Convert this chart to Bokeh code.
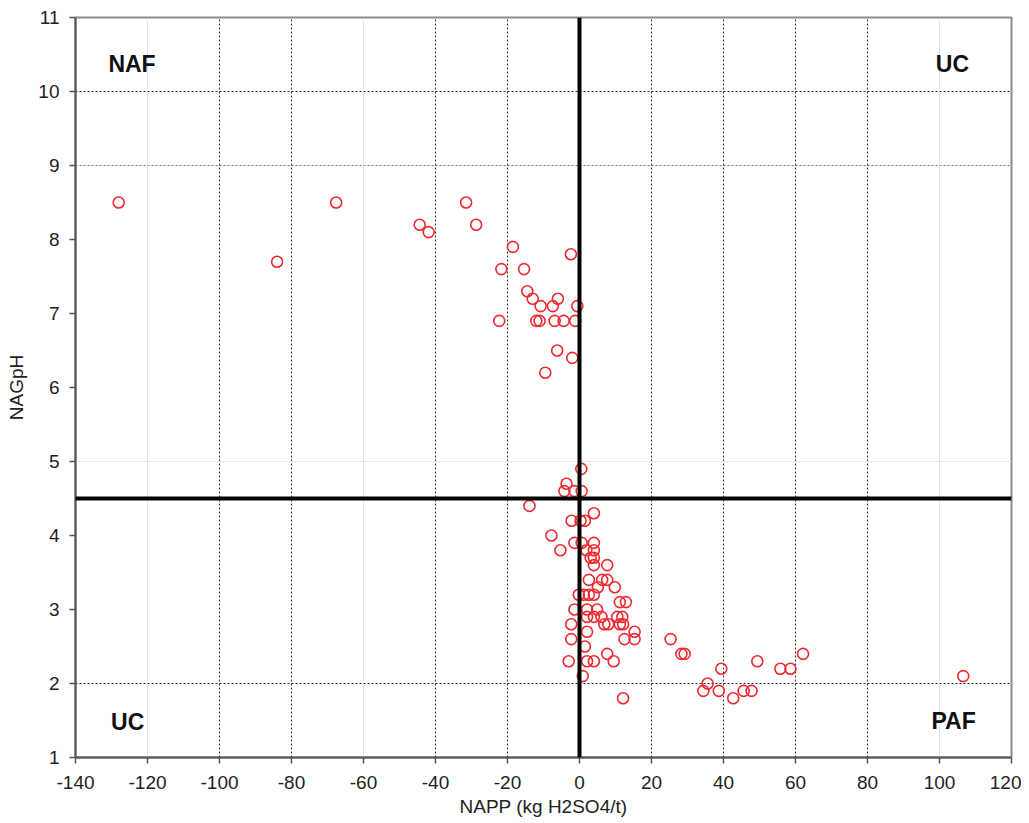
from bokeh.plotting import figure
from bokeh.models import Range1d, FixedTicker, Span, Label, Grid, ColumnDataSource
from bokeh.embed import file_html
from bokeh.resources import INLINE

# ---- data ----
napp = [
    -128.0, -84.0, -67.6, -44.4, -41.9, -31.5, -28.7, -18.5, -2.4, -21.7,
    -15.4, -14.5, -13.0, -10.8, -7.4, -6.0, -0.6, -22.3, -12.0, -11.1,
    -6.9, -4.4, -1.2, -6.2, -2.0, -9.5,
    0.5, -3.6, -4.2, -1.4, 0.6, -13.9, 4.0, -2.2, 0.3, 1.5,
    -7.8, -1.4, 0.6, 4.0, -5.3, 1.9, 4.0, 3.1, 4.0, 4.0,
    7.7, 2.6, 6.3, 7.7, 9.8, 5.1, -0.2, 1.2, 2.6, 4.0,
    11.2, 12.9, -1.4, 2.1, 4.9, 2.1, 4.0, 6.1, 10.5, 11.9,
    6.9, 8.0, 11.2, 12.1, -2.3, 15.3, 2.1, -2.3, 12.5, 15.3,
    25.3, 28.3, 29.2, 1.5, 7.7, -3.0, 2.1, 4.0, 9.5, 0.9, 12.1,
    62.1, 49.4, 55.8, 58.6, 39.4, 106.6, 35.6, 34.4, 38.7, 45.6, 47.8, 42.7,
]
nagph = [
    8.5, 7.7, 8.5, 8.2, 8.1, 8.5, 8.2, 7.9, 7.8, 7.6,
    7.6, 7.3, 7.2, 7.1, 7.1, 7.2, 7.1, 6.9, 6.9, 6.9,
    6.9, 6.9, 6.9, 6.5, 6.4, 6.2,
    4.9, 4.7, 4.6, 4.6, 4.6, 4.4, 4.3, 4.2, 4.2, 4.2,
    4.0, 3.9, 3.9, 3.9, 3.8, 3.8, 3.8, 3.7, 3.7, 3.6,
    3.6, 3.4, 3.4, 3.4, 3.3, 3.3, 3.2, 3.2, 3.2, 3.2,
    3.1, 3.1, 3.0, 3.0, 3.0, 2.9, 2.9, 2.9, 2.9, 2.9,
    2.8, 2.8, 2.8, 2.8, 2.8, 2.7, 2.7, 2.6, 2.6, 2.6,
    2.6, 2.4, 2.4, 2.5, 2.4, 2.3, 2.3, 2.3, 2.3, 2.1, 1.8,
    2.4, 2.3, 2.2, 2.2, 2.2, 2.1, 2.0, 1.9, 1.9, 1.9, 1.9, 1.8,
]
napp_threshold = 0.0
nagph_threshold = 4.5
x_ticks = [-140, -120, -100, -80, -60, -40, -20, 0, 20, 40, 60, 80, 100, 120]
x_tick_labels = ["-140", "-120", "-100", "-80", "-60", "-40", "-20", "0",
                 "20", "40", "60", "80", "100", "120"]
y_ticks = [1, 2, 3, 4, 5, 6, 7, 8, 9, 10, 11]
quadrant_names = ["NAF", "UC", "UC", "PAF"]

FONT = "Liberation Sans"

p = figure(width=1021, height=823, output_backend="svg", toolbar_location=None,
           x_range=Range1d(-140, 120), y_range=Range1d(1, 11),
           min_border_left=75, min_border_top=17, min_border_right=10, min_border_bottom=66)
p.background_fill_color = "white"
p.border_fill_color = "white"
p.outline_line_color = "#8a8a8a"
p.outline_line_width = 2

for ax in (p.xaxis, p.yaxis):
    ax.axis_line_color = "#555555"
    ax.axis_line_width = 2
    ax.major_tick_line_color = "#555555"
    ax.major_tick_line_width = 1.5
    ax.major_tick_out = 6
    ax.major_tick_in = 0
    ax.minor_tick_line_color = None
    ax.major_label_text_font = FONT
    ax.major_label_text_font_size = "19px"
    ax.major_label_text_color = "#222222"
    ax.axis_label_text_font = FONT
    ax.axis_label_text_font_size = "19px"
    ax.axis_label_text_font_style = "normal"
    ax.axis_label_text_color = "#222222"

p.xaxis.ticker = FixedTicker(ticks=x_ticks)
p.xaxis.major_label_overrides = {t: s for t, s in zip(x_ticks, x_tick_labels)}
p.yaxis.ticker = FixedTicker(ticks=y_ticks)
p.xaxis.axis_label = "NAPP (kg H2SO4/t)"
p.yaxis.axis_label = "NAGpH"
p.xaxis.major_label_standoff = 12
p.xaxis.axis_label_standoff = 4
p.yaxis.major_label_standoff = 10
p.yaxis.axis_label_standoff = 8

# dotted grid (as visible in reference)
p.xgrid.ticker = FixedTicker(ticks=[-100, -80, -40, -20, 20, 40, 60, 80])
p.xgrid.grid_line_color = "#333333"
p.xgrid.grid_line_dash = "2 2"
p.xgrid.grid_line_width = 1
p.ygrid.ticker = FixedTicker(ticks=[2, 10])
p.ygrid.grid_line_color = "#222222"
p.ygrid.grid_line_dash = "2 2"
p.ygrid.grid_line_width = 1
p.add_layout(Grid(dimension=1, ticker=FixedTicker(ticks=[9]), grid_line_color="#777777",
                  grid_line_dash="2 2", grid_line_width=1))
p.add_layout(Grid(dimension=0, ticker=FixedTicker(ticks=[-120, -60, 100]), grid_line_color="#e2e2e2",
                  grid_line_width=1))
p.add_layout(Grid(dimension=1, ticker=FixedTicker(ticks=[5]), grid_line_color="#e6e6e6",
                  grid_line_width=1))

# threshold lines
p.add_layout(Span(location=napp_threshold, dimension="height", line_color="black", line_width=4))
p.add_layout(Span(location=nagph_threshold, dimension="width", line_color="black", line_width=4))

src = ColumnDataSource(dict(napp=napp, nagph=nagph))
p.scatter("napp", "nagph", source=src, marker="circle", size=11,
          fill_alpha=0, line_color="#ee2a30", line_width=1.6)

label_pos = [(-124.3, 10.37), (103.6, 10.37), (-125.5, 1.48), (103.9, 1.50)]
for name, (lx, ly) in zip(quadrant_names, label_pos):
    p.add_layout(Label(x=lx, y=ly, text=name, text_align="center", text_baseline="middle",
                       text_font=FONT, text_font_style="bold", text_font_size="23px",
                       text_color="#111111"))

open("out.html", "w").write(file_html(p, INLINE))
